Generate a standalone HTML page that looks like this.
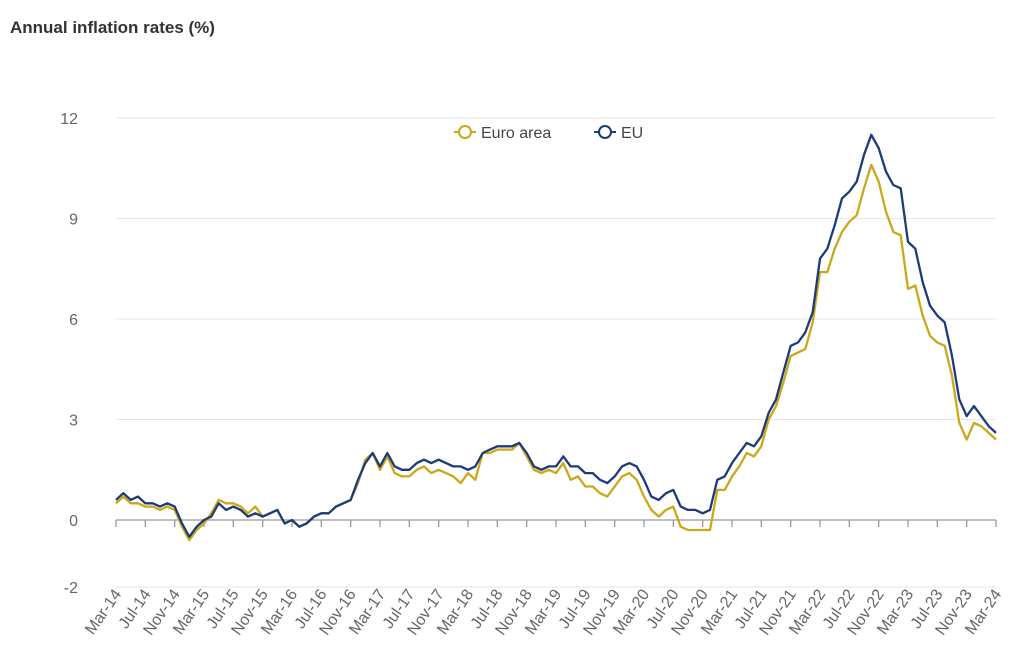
<!DOCTYPE html>
<html><head><meta charset="utf-8"><style>
body{margin:0;background:#fff;}
svg{display:block;font-family:"Liberation Sans",sans-serif;}
</style></head><body>
<svg width="1024" height="655">
<text x="10" y="33" font-size="17" font-weight="bold" fill="#333">Annual inflation rates (%)</text>
<g id="grid"></g>
<g id="yl"></g>
<g id="xl"></g>
<g id="series"></g>
<g>
<g>
<line x1="454" y1="132" x2="476" y2="132" stroke="#c9a81a" stroke-width="2"/>
<circle cx="465" cy="132" r="6" fill="#fff" stroke="#c9a81a" stroke-width="2"/>
<text x="481" y="138" font-size="16" fill="#444">Euro area</text></g>
<g>
<line x1="594" y1="132" x2="616" y2="132" stroke="#1d3a7a" stroke-width="2"/>
<circle cx="605" cy="132" r="6" fill="#fff" stroke="#1d3a7a" stroke-width="2"/>
<text x="621" y="138" font-size="16" fill="#444">EU</text></g>
</g>
</svg>
<script>
const yTicks=[-2,0,3,6,9,12];
const euroArea=[0.5,0.7,0.5,0.5,0.4,0.4,0.3,0.4,0.3,-0.2,
-0.6,-0.3,-0.1,0.2,0.6,0.5,0.5,0.4,0.2,0.4,0.1,0.2,
0.3,-0.1,0.0,-0.2,-0.1,0.1,0.2,0.2,0.4,0.5,0.6,1.1,
1.8,2.0,1.5,1.9,1.4,1.3,1.3,1.5,1.6,1.4,1.5,1.4,
1.3,1.1,1.4,1.2,2.0,2.0,2.1,2.1,2.1,2.3,1.9,1.5,
1.4,1.5,1.4,1.7,1.2,1.3,1.0,1.0,0.8,0.7,1.0,1.3,
1.4,1.2,0.7,0.3,0.1,0.3,0.4,-0.2,-0.3,-0.3,-0.3,-0.3,
0.9,0.9,1.3,1.6,2.0,1.9,2.2,3.0,3.4,4.1,4.9,5.0,
5.1,5.9,7.4,7.4,8.1,8.6,8.9,9.1,9.9,10.6,10.1,9.2,
8.6,8.5,6.9,7.0,6.1,5.5,5.3,5.2,4.3,2.9,2.4,2.9,
2.8,2.6,2.4];
const eu=[0.6,0.8,0.6,0.7,0.5,0.5,0.4,0.5,0.4,-0.1,
-0.5,-0.2,0.0,0.1,0.5,0.3,0.4,0.3,0.1,0.2,0.1,0.2,
0.3,-0.1,0.0,-0.2,-0.1,0.1,0.2,0.2,0.4,0.5,0.6,1.2,
1.7,2.0,1.6,2.0,1.6,1.5,1.5,1.7,1.8,1.7,1.8,1.7,
1.6,1.6,1.5,1.6,2.0,2.1,2.2,2.2,2.2,2.3,2.0,1.6,
1.5,1.6,1.6,1.9,1.6,1.6,1.4,1.4,1.2,1.1,1.3,1.6,
1.7,1.6,1.2,0.7,0.6,0.8,0.9,0.4,0.3,0.3,0.2,0.3,
1.2,1.3,1.7,2.0,2.3,2.2,2.5,3.2,3.6,4.4,5.2,5.3,
5.6,6.2,7.8,8.1,8.8,9.6,9.8,10.1,10.9,11.5,11.1,10.4,
10.0,9.9,8.3,8.1,7.1,6.4,6.1,5.9,4.9,3.6,3.1,3.4,
3.1,2.8,2.6];
const months=["Jan","Feb","Mar","Apr","May","Jun","Jul","Aug","Sep","Oct","Nov","Dec"];
const NS="http://www.w3.org/2000/svg";
const n=euroArea.length;
const x0=116,x1=996;
const X=i=>x0+(x1-x0)*i/(n-1);
const Y=v=>520-v*(520-118)/12;
function mk(t,a,p){const e=document.createElementNS(NS,t);for(const k in a)e.setAttribute(k,a[k]);p.appendChild(e);return e;}
const grid=document.getElementById('grid'),yl=document.getElementById('yl'),xl=document.getElementById('xl'),ser=document.getElementById('series');
yTicks.forEach(v=>{
 if(v!==0){const g=mk('line',{x1:x0,x2:x1,y1:Y(v),y2:Y(v),stroke:'#e6e6e6','stroke-width':1},grid);
 
 }
 const t=mk('text',{x:78,y:Y(v)+6,'text-anchor':'end','font-size':16,fill:'#666'},yl);
 t.textContent=v;
 
 
});
const ax=mk('line',{x1:x0,x2:x1,y1:Y(0),y2:Y(0),stroke:'#999','stroke-width':1.3},xl);


for(let i=0;i<n;i+=4){
 const m=(2+i)%12,yr=14+Math.floor((2+i)/12);
 mk('line',{x1:X(i),x2:X(i),y1:Y(0),y2:Y(0)+7,stroke:'#999','stroke-width':1.3},xl);
 const tx=X(i)+6,ty=594;
 const t=mk('text',{x:tx,y:ty,'text-anchor':'end','font-size':16,fill:'#666',transform:`rotate(-55 ${tx} ${ty})`},xl);
 t.textContent=months[m]+'-'+yr;
 
 
}
function line(arr,col,name){
 const p=mk('path',{d:arr.map((v,i)=>(i?'L':'M')+X(i).toFixed(1)+','+Y(v).toFixed(1)).join(''),fill:'none',stroke:col,'stroke-width':2.3,'stroke-linejoin':'round'},ser);
 
 
}
line(euroArea,'#c9a81a','euro-area-line');
line(eu,'#1d3a7a','eu-line');
</script>
</body></html>
